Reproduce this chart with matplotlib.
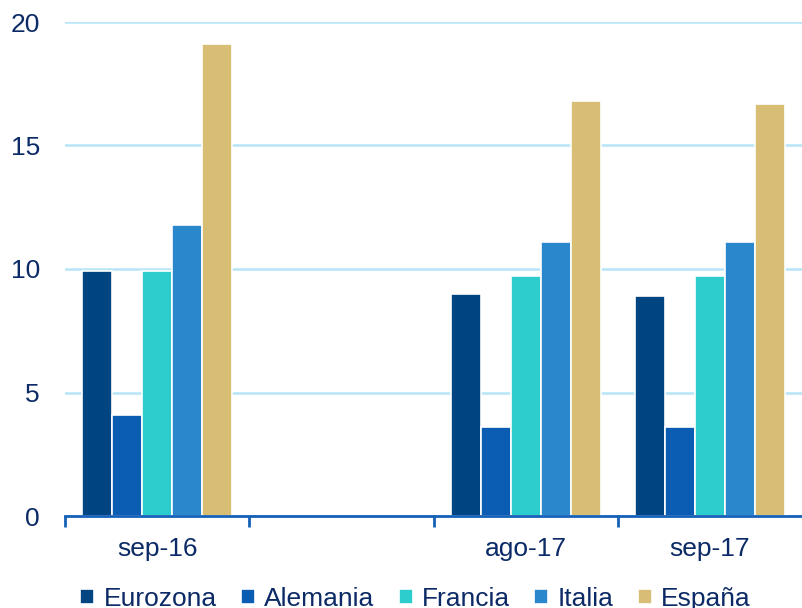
import matplotlib.pyplot as plt
import numpy as np

# Data
categories = ['sep-16', '', 'ago-17', 'sep-17']
series = ['Eurozona', 'Alemania', 'Francia', 'Italia', 'España']
values = {
    'Eurozona': [9.9, np.nan, 9.0, 8.9],
    'Alemania': [4.1, np.nan, 3.6, 3.6],
    'Francia': [9.9, np.nan, 9.7, 9.7],
    'Italia': [11.8, np.nan, 11.1, 11.1],
    'España': [19.1, np.nan, 16.8, 16.7],
}
colors = ['#004481', '#0b5cb3', '#2dcccd', '#2a87cb', '#d8be75']

text_color = '#0c2a66'
plt.rcParams['font.family'] = ['Liberation Sans', 'DejaVu Sans']

fig = plt.figure(figsize=(8.02, 6.08), dpi=100)
ax = fig.add_axes([65 / 802, 92 / 608, 737 / 802, 494 / 608])

x = np.arange(len(categories))
width = 0.163
for i, name in enumerate(series):
    offs = (i - 2) * width
    ax.bar(x + offs, values[name], width, color=colors[i], edgecolor='white',
           linewidth=1.2, label=name, zorder=3)

ax.set_xlim(-0.5, len(categories) - 0.5)
ax.set_ylim(0, 20)
ax.set_yticks([0, 5, 10, 15, 20])
ax.grid(axis='y', color='#b8e4f7', linewidth=1.8, zorder=0)

for s in ['left', 'right', 'top']:
    ax.spines[s].set_visible(False)
ax.spines['bottom'].set_color('#1560b8')
ax.spines['bottom'].set_linewidth(2)
ax.spines['bottom'].set_zorder(4)

ax.set_xticks(x)
ax.set_xticklabels(categories)
ax.set_xticks(np.arange(len(categories)) - 0.5, minor=True)
ax.tick_params(axis='x', which='major', length=0, pad=15, labelsize=19,
               labelcolor=text_color)
ax.tick_params(axis='x', which='minor', length=8, width=2, color='#1560b8')
ax.tick_params(axis='y', length=0, pad=18, labelsize=19, labelcolor=text_color)

fig.legend(loc='lower center', bbox_to_anchor=(0.518, -0.044), ncol=5,
           frameon=False, fontsize=19, handlelength=0.52, handleheight=0.52,
           handletextpad=0.35, columnspacing=0.93, labelcolor=text_color)

fig.savefig('out.png', dpi=100)
